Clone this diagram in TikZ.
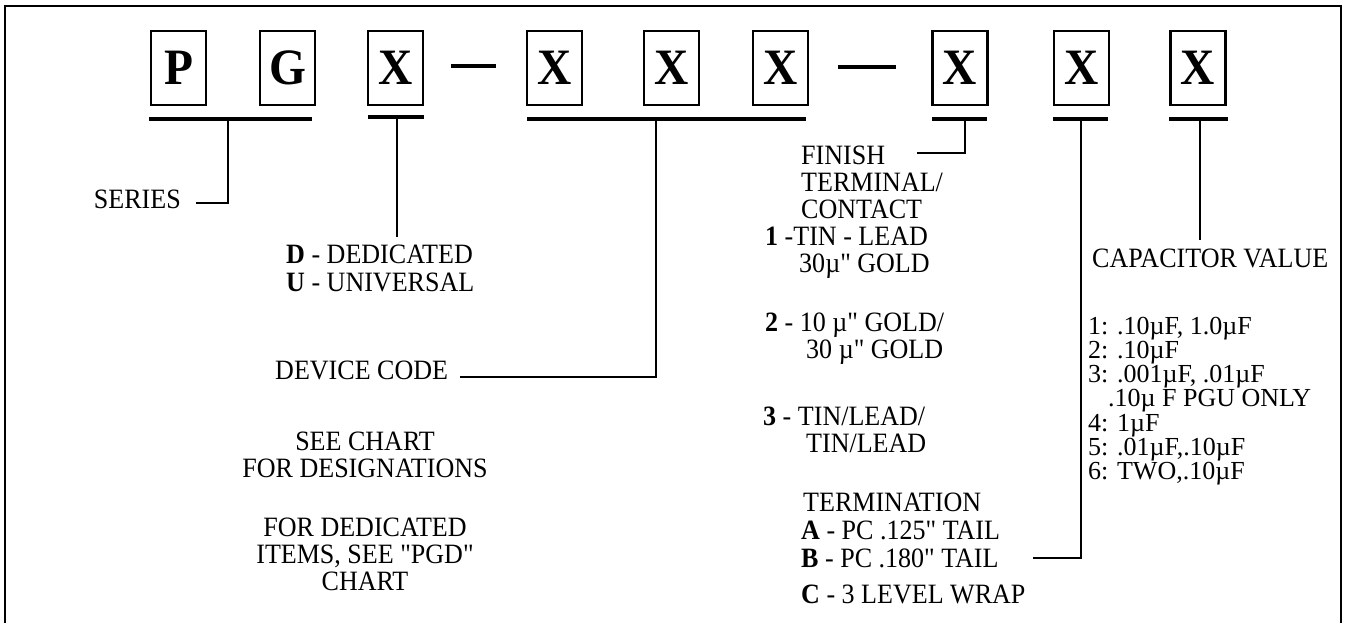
\documentclass[tikz,border=0pt]{standalone}
\usepackage{fontspec}
\setmainfont{Liberation Serif}[Ligatures=TeXOff,FakeStretch=0.93]
\newfontfamily\capfam{Liberation Serif}[Ligatures=TeXOff]
\begin{document}
\begin{tikzpicture}[x=1pt,y=-1pt,
  letterbox/.style={draw,line width=2.8pt,minimum width=55pt,minimum height=74pt,inner sep=0pt,
    font=\fontsize{51}{51}\selectfont\bfseries},
  txt/.style={inner sep=0pt,font=\fontsize{28}{28}\selectfont},
  captxt/.style={inner sep=0pt,font=\capfam\fontsize{26}{26}\selectfont},
  uline/.style={line width=3.4pt},
  stem/.style={line width=2.5pt},
  frame/.style={line width=2.8pt}]
\useasboundingbox (0,0) rectangle (1348,623);
% frame
\coordinate (fbl) at (5,623);
\coordinate (ftl) at (5,6);
\coordinate (ftr) at (1341,6);
\coordinate (fbr) at (1341,623);
\draw[frame] (fbl) -- (ftl) -- (ftr) -- (fbr);
% letter boxes
\node[letterbox] (bP) at (178.5,68) {P};
\node[letterbox] (bG) at (287.5,68) {G};
\node[letterbox] (bX1) at (395.5,68) {X};
\node[letterbox] (bX2) at (554.5,68) {X};
\node[letterbox] (bX3) at (671.5,68) {X};
\node[letterbox] (bX4) at (780.5,68) {X};
\node[letterbox] (bX5) at (960,68) {X};
\node[letterbox] (bX6) at (1081.5,68) {X};
\node[letterbox] (bX7) at (1198,68) {X};
% dashes
\coordinate (d1a) at (451,66); \coordinate (d1b) at (496,66);
\coordinate (d2a) at (838,67); \coordinate (d2b) at (896,67);
\draw[uline] (d1a) -- (d1b);
\draw[uline] (d2a) -- (d2b);
% underlines
\coordinate (uPa) at (149,119); \coordinate (uPb) at (312,119);
\coordinate (uX1a) at (368,117); \coordinate (uX1b) at (424,117);
\coordinate (uDa) at (527,119); \coordinate (uDb) at (806,119);
\coordinate (uX5a) at (932,119); \coordinate (uX5b) at (987,119);
\coordinate (uX6a) at (1053,119); \coordinate (uX6b) at (1108,119);
\coordinate (uX7a) at (1169,119); \coordinate (uX7b) at (1228,119);
\draw[uline] (uPa) -- (uPb);
\draw[uline] (uX1a) -- (uX1b);
\draw[uline] (uDa) -- (uDb);
\draw[uline] (uX5a) -- (uX5b);
\draw[uline] (uX6a) -- (uX6b);
\draw[uline] (uX7a) -- (uX7b);
% left texts
\node[txt,anchor=base east] (series) at (181,208) {SERIES};
\node[txt,anchor=base west] (ded) at (286,263) {\textbf{D} - DEDICATED};
\node[txt,anchor=base west] (uni) at (286,291) {\textbf{U} - UNIVERSAL};
\node[txt,anchor=base west] (dev) at (275,379) {DEVICE CODE};
\node[txt,anchor=base] (see1) at (365,450) {SEE CHART};
\node[txt,anchor=base] (see2) at (365,477) {FOR DESIGNATIONS};
\node[txt,anchor=base] (for1) at (365,536) {FOR DEDICATED};
\node[txt,anchor=base] (for2) at (365,563) {ITEMS, SEE "PGD"};
\node[txt,anchor=base] (for3) at (365,590) {CHART};
% finish column
\node[txt,anchor=base west] (fin) at (801,164) {FINISH};
\node[txt,anchor=base west] (fin2) at (801,191) {TERMINAL/};
\node[txt,anchor=base west] (fin3) at (801,218) {CONTACT};
\node[txt,anchor=base west] (f1a) at (765,245) {\textbf{1} -TIN - LEAD};
\node[txt,anchor=base west] (f1b) at (799,272) {30µ" GOLD};
\node[txt,anchor=base west] (f2a) at (765,331) {\textbf{2} - 10 µ" GOLD/};
\node[txt,anchor=base west] (f2b) at (806,358) {30 µ" GOLD};
\node[txt,anchor=base west] (f3a) at (763,425) {\textbf{3} - TIN/LEAD/};
\node[txt,anchor=base west] (f3b) at (806,452) {TIN/LEAD};
\node[txt,anchor=base west] (term) at (803,511) {TERMINATION};
\node[txt,anchor=base west] (tA) at (801,539) {\textbf{A} - PC .125" TAIL};
\node[txt,anchor=base west] (tB) at (801,567) {\textbf{B} - PC .180" TAIL};
\node[txt,anchor=base west] (tC) at (801,603) {\textbf{C} - 3 LEVEL WRAP};
% capacitor column
\node[txt,anchor=base west] (cap) at (1092,267) {CAPACITOR VALUE};
\node[captxt,anchor=base west] (c1) at (1088,334) {1: .10µF, 1.0µF};
\node[captxt,anchor=base west] (c2) at (1088,358.3) {2: .10µF};
\node[captxt,anchor=base west] (c3) at (1088,382.6) {3: .001µF, .01µF};
\node[captxt,anchor=base west] (c3b) at (1108,406.9) {.10µ F PGU ONLY};
\node[captxt,anchor=base west] (c4) at (1088,431.2) {4: 1µF};
\node[captxt,anchor=base west] (c5) at (1088,455.5) {5: .01µF,.10µF};
\node[captxt,anchor=base west] (c6) at (1088,479.8) {6: TWO,.10µF};
% connectors
\coordinate (sP) at (228,119);   \coordinate (hP) at (228,203);  \coordinate (eP) at (196,203);
\coordinate (sX1) at (397,117);  \coordinate (eX1) at (397,237);
\coordinate (sD) at (656,119);   \coordinate (hD) at (656,377);  \coordinate (eD) at (460,377);
\coordinate (sX5) at (965,119);  \coordinate (hX5) at (965,153); \coordinate (eX5) at (917,153);
\coordinate (sX6) at (1081,119); \coordinate (hX6) at (1081,558); \coordinate (eX6) at (1033,558);
\coordinate (sX7) at (1200,119); \coordinate (eX7) at (1200,240);
\draw[stem] (sP) -- (hP) -- (eP);
\draw[stem] (sX1) -- (eX1);
\draw[stem] (sD) -- (hD) -- (eD);
\draw[stem] (sX5) -- (hX5) -- (eX5);
\draw[stem] (sX6) -- (hX6) -- (eX6);
\draw[stem] (sX7) -- (eX7);
\end{tikzpicture}
\end{document}
